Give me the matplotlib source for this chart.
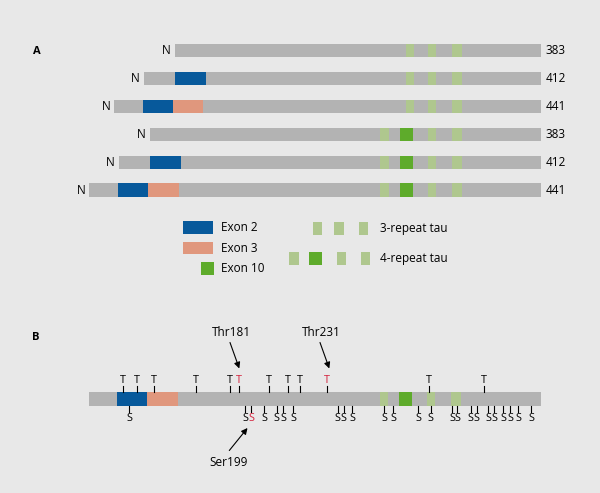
import matplotlib.pyplot as plt

plt.rcParams['font.family'] = ['Open Sans', 'DejaVu Sans']

# schematic coordinates (drawing units along the protein)
bar_end = 540.7
isoform_len = [383, 412, 441, 383, 412, 441]
isoform_start = [175, 144, 114.3, 150, 119, 89.3]
isoform_y = [50.5, 78.3, 106.5, 134.3, 162.3, 190]
exon2_start = [None, 175, 142.7, None, 150, 117.7]
exon3_start = [None, None, 172.7, None, None, 148]
exon_w = 30.5
is_4r = [False, False, False, True, True, True]
rep3 = [(406, 414.3), (427.7, 436), (451.7, 461.7)]
rep4 = [(380.3, 389), (399.7, 412.7), (427.7, 436), (451.7, 461.7)]
exon10_idx = 1  # second repeat in 4R is exon 10

# panel B
b_y = 399
b_start = 89
t_sites = [123.3, 136.7, 153.7, 196, 230, 239.3, 269.3, 288.3, 300, 326.7, 429.3, 484.3]
t_red = [239.3, 326.7]
s_sites = [129.3, 245, 251, 264.3, 276.7, 283.3, 293.3, 337.7, 343.7, 352.3, 384, 393.3,
           418.3, 430.7, 452, 457, 470.7, 476.7, 488.3, 494.3, 503.3, 510.3, 518, 531]
s_red = [251]

bg = '#e8e8e8'
grey = '#b3b3b3'
blue = '#07599b'
salmon = '#e0977d'
lgreen = '#afc78e'
dgreen = '#5eab2b'
red = '#d4213c'
h = 13.3

fig = plt.figure(figsize=(6, 4.93), dpi=100, facecolor=bg)
ax = fig.add_axes([0, 0, 1, 1])
ax.set_facecolor(bg)
ax.set_xlim(0, 600)
ax.set_ylim(493, 0)
ax.axis('off')

ax.text(37, 51, 'A', fontsize=8, fontweight='bold', va='center', ha='center')

for i in range(6):
    y = isoform_y[i]
    x0 = isoform_start[i]
    ax.barh(y, bar_end - x0, left=x0, height=h, color=grey)
    if exon2_start[i] is not None:
        ax.barh(y, exon_w, left=exon2_start[i], height=h, color=blue)
    if exon3_start[i] is not None:
        ax.barh(y, exon_w, left=exon3_start[i], height=h, color=salmon)
    reps = rep4 if is_4r[i] else rep3
    for j, (a, b) in enumerate(reps):
        c = dgreen if (is_4r[i] and j == exon10_idx) else lgreen
        ax.barh(y, b - a, left=a, height=h, color=c)
    ax.text(x0 - 4, y, 'N', fontsize=8.5, ha='right', va='center')
    ax.text(546, y, str(isoform_len[i]), fontsize=8.5, ha='left', va='center')

# legend
ax.barh(227.3, 30, left=183.3, height=13.3, color=blue)
ax.barh(248, 30, left=183.3, height=12.6, color=salmon)
ax.barh(268.3, 13.3, left=200.7, height=13.3, color=dgreen)
ax.text(220.7, 227.3, 'Exon 2', fontsize=8.5, va='center')
ax.text(220.7, 248, 'Exon 3', fontsize=8.5, va='center')
ax.text(220.7, 269, 'Exon 10', fontsize=8.5, va='center')
for a in [312.7, 334.3, 358.7]:
    ax.barh(228.3, 9.5, left=a, height=13.3, color=lgreen)
for k, a in enumerate([289.3, 309.3, 336.7, 360.7]):
    w = 13 if k == 1 else 9.5
    ax.barh(258.3, w, left=a, height=13.3, color=dgreen if k == 1 else lgreen)
ax.text(380, 228.5, '3-repeat tau', fontsize=8.5, va='center')
ax.text(380, 258.5, '4-repeat tau', fontsize=8.5, va='center')

# panel B
ax.text(36, 337, 'B', fontsize=8, fontweight='bold', va='center', ha='center')
ax.barh(b_y, bar_end - b_start, left=b_start, height=h, color=grey)
ax.barh(b_y, 30.3, left=116.7, height=h, color=blue)
ax.barh(b_y, 31, left=147, height=h, color=salmon)
for j, (a, b) in enumerate([(379.7, 388.3), (399, 412), (426.7, 435.3), (450.7, 460.7)]):
    ax.barh(b_y, b - a, left=a, height=h, color=dgreen if j == 1 else lgreen)

top = b_y - h / 2
bot = b_y + h / 2
for x in t_sites:
    c = red if x in t_red else 'black'
    ax.plot([x, x], [top, top - 6], color='black', lw=0.8)
    ax.text(x, top - 6.5, 'T', color=c, fontsize=7.8, ha='center', va='bottom')
for x in s_sites:
    c = red if x in s_red else 'black'
    ax.plot([x, x], [bot, bot + 6.5], color='black', lw=0.8)
    ax.text(x, bot + 7.5, 'S', color=c, fontsize=7.8, ha='center', va='top')

arr = dict(arrowstyle='-|>', color='black', lw=0.8, mutation_scale=9, shrinkA=0, shrinkB=0)
ax.text(231, 333, 'Thr181', fontsize=8.5, ha='center', va='center')
ax.annotate('', xy=(239.3, 368.5), xytext=(230, 342.5), arrowprops=arr)
ax.text(321, 333, 'Thr231', fontsize=8.5, ha='center', va='center')
ax.annotate('', xy=(329.3, 368.5), xytext=(320, 342.5), arrowprops=arr)
ax.text(229, 462.3, 'Ser199', fontsize=8.5, ha='center', va='center')
ax.annotate('', xy=(247.5, 428), xytext=(229.3, 450.5), arrowprops=arr)

fig.savefig('out.png', dpi=100, facecolor=bg)
